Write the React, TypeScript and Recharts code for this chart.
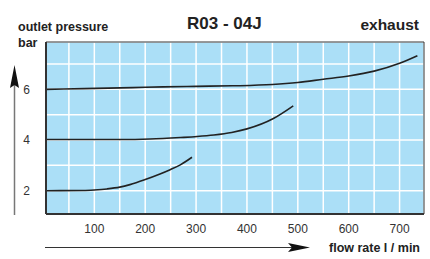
import React from 'react';
import { LineChart, Line, XAxis, YAxis, CartesianGrid, ReferenceArea } from 'recharts';

// curve: flow rate (l/min) vs outlet pressure (bar)
const flow6 = [5, 80, 175, 235, 300, 372, 450, 500, 550, 600, 650, 700, 735];
const bar6 = [6.0, 6.03, 6.07, 6.1, 6.12, 6.14, 6.19, 6.27, 6.4, 6.53, 6.72, 7.03, 7.33];

const flow4 = [5, 150, 210, 270, 302, 335, 370, 400, 452, 491];
const bar4 = [4.02, 4.02, 4.04, 4.1, 4.14, 4.2, 4.3, 4.44, 4.85, 5.35];

const flow2 = [5, 78, 100, 125, 150, 170, 200, 229, 249, 269, 292];
const bar2 = [2.0, 2.01, 2.03, 2.07, 2.14, 2.24, 2.44, 2.66, 2.83, 3.02, 3.32];

const xTicks = [50, 100, 150, 200, 250, 300, 350, 400, 450, 500, 550, 600, 650, 700];
const yTicks = [2, 3, 4, 5, 6, 7];

const zip = (xs: number[], ys: number[]) => xs.map((x, i) => ({ flow: x, bar: ys[i] }));

const FONT = '"Liberation Sans", Arial, sans-serif';
const INK = '#222';

export default function App() {
  const series = [zip(flow6, bar6), zip(flow4, bar4), zip(flow2, bar2)];
  return (
    <div style={{ position: 'absolute', left: 0, top: 0, width: 430, height: 259, fontFamily: FONT }}>
      <LineChart width={430} height={259} margin={{ top: 42, right: 6, bottom: 0, left: 0 }}>
        <CartesianGrid fill="#abdff7" stroke="#fff" strokeWidth={1.5} fillOpacity={1} />
        <XAxis
          type="number"
          dataKey="flow"
          domain={[5, 748]}
          ticks={xTicks}
          allowDataOverflow
          height={45}
          tickLine={false}
          axisLine={{ stroke: '#333', strokeWidth: 2 }}
          tick={{ fill: '#333', fontSize: 12, fontFamily: FONT }}
          tickFormatter={(v: number) => (v % 100 === 0 ? String(v) : '')}
          tickMargin={4}
        />
        <YAxis
          type="number"
          dataKey="bar"
          domain={[1.08, 7.87]}
          ticks={yTicks}
          allowDataOverflow
          width={46}
          tickLine={false}
          axisLine={{ stroke: '#333', strokeWidth: 2 }}
          tick={{ fill: '#333', fontSize: 12, fontFamily: FONT }}
          tickFormatter={(v: number) => (v % 2 === 0 ? String(v) : '')}
          tickMargin={10}
        />
        <ReferenceArea x1={5} x2={748} y1={1.08} y2={7.87} fill="none" stroke="#333" strokeWidth={1} />
        {series.map((d, i) => (
          <Line
            key={i}
            data={d}
            dataKey="bar"
            type="monotone"
            stroke={INK}
            strokeWidth={1.6}
            dot={false}
            isAnimationActive={false}
          />
        ))}
      </LineChart>
      <svg width={430} height={259} style={{ position: 'absolute', left: 0, top: 0, pointerEvents: 'none' }}>
        <text x={18} y={31} fontSize={12.5} fontWeight="bold" fill="#222" fontFamily={FONT}>outlet pressure</text>
        <text x={18} y={47} fontSize={12.5} fontWeight="bold" fill="#222" fontFamily={FONT}>bar</text>
        <text x={187} y={29} fontSize={17} fontWeight="bold" fill="#222" fontFamily={FONT}>R03 - 04J</text>
        <text x={419} y={30} fontSize={15.5} fontWeight="bold" fill="#222" fontFamily={FONT} textAnchor="end">exhaust</text>
        <line x1={14.5} y1={80} x2={14.5} y2={215} stroke="#777" strokeWidth={1.5} />
        <path d="M14.5 65 L19 88 L14.5 85 L10 88 Z" fill="#111" />
        <line x1={45} y1={247.5} x2={295} y2={247.5} stroke="#333" strokeWidth={1.2} />
        <path d="M310 247.5 L288 243 L292 247.5 L288 252 Z" fill="#111" />
        <text x={420} y={252} fontSize={12.5} fontWeight="bold" fill="#222" fontFamily={FONT} textAnchor="end">flow rate l / min</text>
      </svg>
    </div>
  );
}
